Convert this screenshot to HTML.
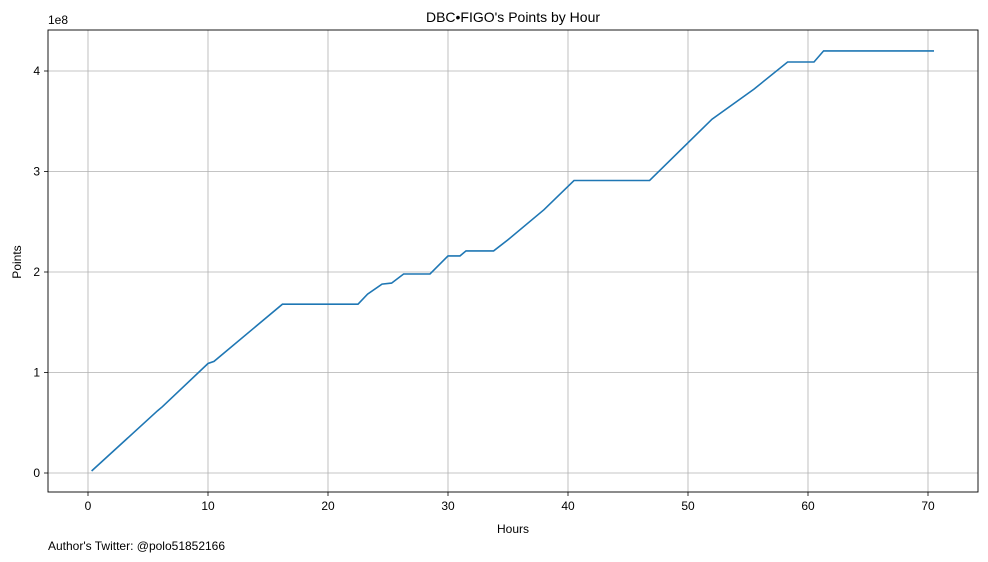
<!DOCTYPE html>
<html><head><meta charset="utf-8">
<style>
body{margin:0;background:#fff;}
svg{display:block;font-family:"Liberation Sans","DejaVu Sans",sans-serif;}
</style></head>
<body>
<svg id="chart" width="988" height="562">
<rect x="0" y="0" width="988" height="562" fill="#fff"/>
<text x="513" y="22" text-anchor="middle" font-size="14">DBC•FIGO's Points by Hour</text>
<text x="513" y="533" text-anchor="middle" font-size="12">Hours</text>
<text x="21" y="262" text-anchor="middle" font-size="12" transform="rotate(-90 21 262)">Points</text>
<text x="48" y="24" font-size="12">1e8</text>
<text x="48" y="550" font-size="12">Author's Twitter: @polo51852166</text>
<g id="grid"></g>
<g id="ticks"></g>
<path id="line" fill="none" stroke="#1f77b4" stroke-width="1.6"/>
<rect x="48" y="30" width="930" height="462" fill="none" stroke="#000" stroke-width="0.9"/>
</svg>
<script>
const hours = [0.3,5.8,6.2,10,10.5,16.2,22.5,23.3,24.5,25.3,26.3,28.5,30,31,31.5,33.8,35,38,40.5,46.8,52,55.5,58.3,60.5,61.3,70.5];
const points = [0.02,0.62,0.66,1.09,1.11,1.68,1.68,1.78,1.88,1.89,1.98,1.98,2.16,2.16,2.21,2.21,2.32,2.62,2.91,2.91,3.52,3.82,4.09,4.09,4.2,4.2];
const xTicks = [0,10,20,30,40,50,60,70];
const yTicks = [0,1,2,3,4];
const NS="http://www.w3.org/2000/svg";
function xs(v){return 88+v*12;}
function ys(v){return 473-v*100.5;}
const grid=document.getElementById('grid'), ticks=document.getElementById('ticks');
function mk(tag,attrs,parent){const e=document.createElementNS(NS,tag);for(const k in attrs)e.setAttribute(k,attrs[k]);parent.appendChild(e);return e;}
xTicks.forEach(t=>{
  const g=mk('line',{x1:xs(t),x2:xs(t),y1:30,y2:492,stroke:'#b0b0b0','stroke-width':0.8},grid);
  
  
  mk('line',{x1:xs(t),x2:xs(t),y1:492,y2:496,stroke:'#000','stroke-width':0.8},ticks);
  const l=mk('text',{x:xs(t),y:510,'text-anchor':'middle','font-size':12},ticks);
  l.textContent=t;
  
  
});
yTicks.forEach(t=>{
  const g=mk('line',{x1:48,x2:978,y1:ys(t),y2:ys(t),stroke:'#b0b0b0','stroke-width':0.8},grid);
  
  
  mk('line',{x1:44,x2:48,y1:ys(t),y2:ys(t),stroke:'#000','stroke-width':0.8},ticks);
  const l=mk('text',{x:40,y:ys(t)+4,'text-anchor':'end','font-size':12},ticks);
  l.textContent=t;
  
  
});
document.getElementById('line').setAttribute('d',hours.map((h,i)=>(i?'L':'M')+xs(h).toFixed(1)+','+ys(points[i]).toFixed(1)).join(''));
</script>
</body></html>
